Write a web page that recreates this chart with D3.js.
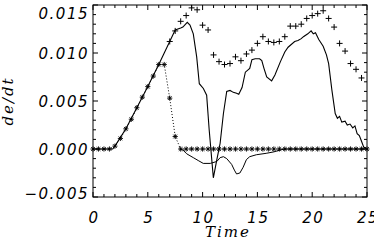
<!DOCTYPE html>
<html><head><meta charset="utf-8">
<script src="https://cdn.jsdelivr.net/npm/d3@7"></script>
<style>html,body{margin:0;padding:0;background:#fff;}svg{display:block;}</style>
</head><body>
<script>
// ---- data ----
const mainT = [0,1.8,2.0,3.0,4.0,5.0,6.0,6.5,7.0,7.5,8.0,8.2,8.6,8.85,9.15,9.46,9.7,10.07,10.37,10.6,10.98,11.3,11.6,11.9,12.2,12.5,12.8,13.1,13.3,13.6,13.9,14.3,14.5,14.8,15.2,15.4,15.6,15.85,16.3,16.6,17.1,17.5,17.8,18.4,18.7,19.0,19.2,19.6,19.9,20.1,20.3,20.6,21.0,21.3,21.5,21.8,22.1,22.3,22.5,22.7,23.0,23.2,23.45,23.7,23.9,24.1,24.3,24.5,24.7,25];
const mainV = [0,0,0.0003,0.0021,0.0043,0.0065,0.0088,0.0100,0.0112,0.0124,0.0126,0.0127,0.0132,0.0129,0.0120,0.0096,0.0068,0.0063,0.0056,0.0020,-0.0030,-0.0011,0.0006,0.0037,0.0060,0.0061,0.0059,0.0058,0.0057,0.0064,0.0080,0.0084,0.0093,0.0094,0.0094,0.0092,0.0084,0.0075,0.0071,0.0077,0.0091,0.0101,0.0106,0.0112,0.0113,0.0115,0.0117,0.0120,0.0123,0.0120,0.0121,0.0114,0.0107,0.0098,0.0089,0.0061,0.0037,0.0032,0.0034,0.0028,0.0029,0.0025,0.0026,0.0022,0.0024,0.0016,0.0014,0.0008,0.0002,0];

const lowT = [7.9,8.2,8.55,8.85,9.15,9.6,10.06,10.7,11.3,11.6,11.9,12.2,12.65,12.9,13.1,13.4,13.7,14.0,14.3,14.9,15.8,16.5,17.1,17.5,25];
const lowV = [0,-0.0001,-0.0005,-0.0007,-0.0009,-0.0012,-0.0015,-0.0015,-0.0013,-0.0009,-0.0008,-0.0010,-0.0016,-0.0022,-0.0026,-0.0025,-0.0019,-0.0011,-0.0008,-0.0006,-0.00045,-0.0003,-0.0001,0,0];

const starT = d3.range(0, 25.01, 0.5);
const starV = [0,0,0,0,0.0003,0.0011,0.0021,0.0031,0.0043,0.0054,0.0065,0.0076,0.0088,0.0088,0.0053,0.0013,
  0,0,0,0,0,0,0,0,0,0,0,0,0,0,0,0,0,0,0,0,0,0,0,0,0,0,0,0,0,0,0,0,0,0,0];

const plusT = [7.0,7.5,8.0,8.5,9.0,9.5,10.0,10.5,11.0,11.5,12.0,12.5,13.0,13.5,14.0,14.5,15.0,15.5,16.0,16.5,17.0,17.5,18.0,18.5,19.0,19.5,20.0,20.5,21.0,21.5,22.0,22.5,23.0,23.5,24.0,24.5];
const plusV = [0.0112,0.0123,0.0133,0.0139,0.0147,0.0145,0.0129,0.0124,0.0098,0.0091,0.0088,0.0089,0.0096,0.0092,0.0099,0.0103,0.0110,0.0117,0.0112,0.0111,0.0112,0.0117,0.0128,0.0128,0.0130,0.0136,0.0139,0.0141,0.0144,0.0136,0.0127,0.0110,0.0102,0.0089,0.0083,0.0074];

const xTicks = [0,5,10,15,20,25];
const xTickLabels = ["0","5","10","15","20","25"];
const yTicks = [-0.005,0,0.005,0.010,0.015];
const yTickLabels = ["\u22120.005","0.000","0.005","0.010","0.015"];
const xTitle = "Time";
const yTitle = "de/dt";

// ---- drawing ----
const W = 374, H = 244;
const L = 93, R = 367, T = 5, B = 197;
const svg = d3.select("body").append("svg").attr("width", W).attr("height", H);
const x = d3.scaleLinear().domain([0,25]).range([L,R]);
const y = d3.scaleLinear().domain([-0.005,0.015]).range([B,T]);

const g = svg.append("g").attr("fill","none").attr("stroke","#000");

// box
g.append("rect").attr("x",L).attr("y",T).attr("width",R-L).attr("height",B-T).attr("stroke-width",1);

// ticks
const xMinor = d3.range(0, 25.01, 1);
xMinor.forEach(v => {
  const major = xTicks.includes(v);
  const len = major ? 5 : 3;
  g.append("line").attr("x1",x(v)).attr("x2",x(v)).attr("y1",B).attr("y2",B-len);
  g.append("line").attr("x1",x(v)).attr("x2",x(v)).attr("y1",T).attr("y2",T+len);
});
const yMinor = d3.range(-0.005, 0.01501, 0.001);
yMinor.forEach(v => {
  const major = yTicks.some(t => Math.abs(t-v) < 1e-7);
  const len = major ? 5 : 3;
  g.append("line").attr("y1",y(v)).attr("y2",y(v)).attr("x1",L).attr("x2",L+len);
  g.append("line").attr("y1",y(v)).attr("y2",y(v)).attr("x1",R).attr("x2",R-len);
});

// lines
const line = d3.line().x(d=>x(d[0])).y(d=>y(d[1]));
g.append("path").attr("d", line(d3.zip(lowT, lowV))).attr("stroke-width",1);
g.append("path").attr("d", line(d3.zip(starT, starV))).attr("stroke-width",1).attr("stroke-dasharray","1,2");
g.append("path").attr("d", line(d3.zip(mainT, mainV))).attr("stroke-width",1.1);

// asterisks
const s = 2.6;
d3.zip(starT, starV).forEach(([t,v]) => {
  const cx = x(t), cy = y(v), d = s*0.72;
  g.append("path").attr("stroke-width",0.9)
    .attr("d", `M${cx-s},${cy}H${cx+s}M${cx},${cy-s}V${cy+s}M${cx-d},${cy-d}L${cx+d},${cy+d}M${cx-d},${cy+d}L${cx+d},${cy-d}`);
});
// pluses
const p = 3;
d3.zip(plusT, plusV).forEach(([t,v]) => {
  const cx = x(t), cy = y(v);
  g.append("path").attr("stroke-width",1)
    .attr("d", `M${cx-p},${cy}H${cx+p}M${cx},${cy-p}V${cy+p}`);
});

// labels
const numFont = "'DejaVu Sans', sans-serif";
const txt = svg.append("g").attr("fill","#000");
yTicks.forEach((v,i) => {
  const cy = Math.max(13, Math.min(193, y(v)));
  txt.append("text").attr("x", 89).attr("y", cy + 5.5)
    .attr("text-anchor","end").attr("font-family",numFont).attr("font-style","italic")
    .attr("font-size",15).attr("letter-spacing","1.5px").text(yTickLabels[i]);
});
xTicks.forEach((v,i) => {
  txt.append("text").attr("x", x(v)+1).attr("y", 222.5)
    .attr("text-anchor","middle").attr("font-family",numFont).attr("font-style","italic")
    .attr("font-size",15).attr("letter-spacing","1.5px").text(xTickLabels[i]);
});
txt.append("text").attr("x", 228).attr("y", 237)
  .attr("text-anchor","middle").attr("font-family","'DejaVu Serif', serif").attr("font-style","italic")
  .attr("font-size",15).attr("letter-spacing","2px").text(xTitle);
txt.append("text").attr("transform","translate(13,101) rotate(-90)")
  .attr("text-anchor","middle").attr("font-family","'DejaVu Serif', serif").attr("font-style","italic")
  .attr("font-size",15).attr("letter-spacing","2px").text(yTitle);
</script>
</body></html>
